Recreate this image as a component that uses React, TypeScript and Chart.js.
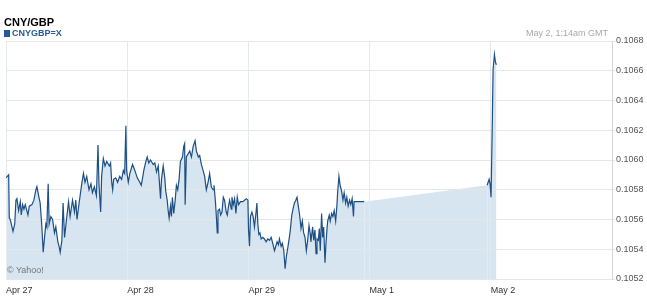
import { useEffect, useRef } from "react";
import Chart from "chart.js/auto";

// Trading-session axis: one unit per session day
const dayLabels = ["Apr 27", "Apr 28", "Apr 29", "May 1", "May 2"];
const rateTicks = [0.1052, 0.1054, 0.1056, 0.1058, 0.106, 0.1062, 0.1064, 0.1066, 0.1068];

// Position of each quote on the session axis (days since Apr 27)
const times = [
  0.0, 0.022, 0.027, 0.035, 0.058, 0.072, 0.082, 0.09, 0.104, 0.118,
  0.126, 0.137, 0.148, 0.159, 0.181, 0.192, 0.214, 0.23, 0.247, 0.255,
  0.269, 0.282, 0.296, 0.307, 0.318, 0.329, 0.337, 0.348, 0.356, 0.37,
  0.384, 0.4, 0.411, 0.428, 0.438, 0.447, 0.461, 0.471, 0.483, 0.502,
  0.516, 0.529, 0.549, 0.565, 0.576, 0.586, 0.603, 0.625, 0.639, 0.652,
  0.666, 0.685, 0.701, 0.713, 0.729, 0.746, 0.759, 0.767, 0.781, 0.789,
  0.803, 0.817,
  0.831, 0.853, 0.863, 0.872, 0.88, 0.888, 0.905, 0.921, 0.938, 0.954,
  0.968, 0.979, 0.989, 0.995, 1.009, 1.022, 1.044, 1.063, 1.083, 1.104,
  1.116, 1.127, 1.137, 1.154, 1.165, 1.178, 1.192, 1.215, 1.228, 1.242,
  1.256, 1.264, 1.275, 1.283, 1.297, 1.31, 1.318, 1.33, 1.338, 1.346,
  1.357, 1.365, 1.373, 1.384, 1.396, 1.406, 1.417, 1.428, 1.439, 1.456,
  1.466, 1.474, 1.478, 1.488, 1.516, 1.53, 1.544, 1.56, 1.571, 1.587,
  1.598, 1.612, 1.626, 1.639, 1.653, 1.667, 1.68,
  1.694, 1.708, 1.716, 1.727, 1.735, 1.743, 1.749, 1.762, 1.771, 1.782,
  1.793, 1.803, 1.817, 1.826, 1.836, 1.845, 1.859, 1.864, 1.875, 1.886,
  1.897, 1.908, 1.919, 1.935, 1.955, 1.968, 1.984, 1.996, 2.001, 2.009,
  2.017, 2.029, 2.039, 2.05, 2.062, 2.07, 2.078, 2.086, 2.095, 2.105,
  2.119, 2.132, 2.146, 2.16, 2.174, 2.188, 2.201, 2.215, 2.226, 2.237,
  2.248, 2.256, 2.27, 2.28, 2.292, 2.303, 2.313, 2.325, 2.338, 2.346,
  2.358, 2.368, 2.379, 2.391, 2.401, 2.412, 2.424, 2.434, 2.445, 2.456,
  2.467, 2.478, 2.489, 2.5, 2.511,
  2.516, 2.53, 2.539, 2.549, 2.558, 2.566, 2.577, 2.585, 2.593, 2.604,
  2.613, 2.621, 2.632, 2.64, 2.648, 2.654, 2.667, 2.675, 2.687, 2.697,
  2.708, 2.72, 2.73, 2.736, 2.747, 2.757, 2.769, 2.78, 2.79, 2.802,
  2.812, 2.823, 2.835, 2.845, 2.856, 2.867, 2.872, 2.887, 2.955,
  3.97, 3.986, 3.994, 4.002, 4.011, 4.019, 4.03, 4.038, 4.046,
];

// CNY/GBP quotes
const rates = [
  0.10588, 0.1059, 0.10561, 0.1056, 0.10552, 0.10557, 0.10573, 0.10574, 0.10566, 0.10572,
  0.10563, 0.1057, 0.10567, 0.1057, 0.10563, 0.10569, 0.1057, 0.10573, 0.1058, 0.10582,
  0.10576, 0.10571, 0.10555, 0.10538, 0.10548, 0.10557, 0.10555, 0.10584, 0.10557, 0.10562,
  0.1056, 0.10551, 0.10555, 0.10545, 0.10542, 0.10538, 0.10546, 0.10571, 0.10548, 0.10562,
  0.10572, 0.10562, 0.10573, 0.10565, 0.10573, 0.1056, 0.10571, 0.10584, 0.10591, 0.10585,
  0.10589, 0.1058, 0.10584, 0.10578, 0.10582, 0.10576, 0.1061, 0.10584, 0.10565, 0.10589,
  0.10601, 0.10596,
  0.10599, 0.10596, 0.10598, 0.10585, 0.1058, 0.10587, 0.10588, 0.10585, 0.10589, 0.10587,
  0.10593, 0.10591, 0.10623, 0.10593, 0.10585, 0.10591, 0.10597, 0.10593, 0.10588, 0.10585,
  0.10583, 0.10588, 0.10593, 0.10599, 0.10602, 0.10598, 0.106, 0.10597, 0.10598, 0.10592,
  0.10596, 0.10587, 0.10574, 0.10587, 0.10596, 0.10588, 0.10579, 0.10573, 0.10566, 0.10561,
  0.10569, 0.10562, 0.10575, 0.10564, 0.10573, 0.10583, 0.1058, 0.10587, 0.10599, 0.10602,
  0.10609, 0.10611, 0.1057, 0.10602, 0.10606, 0.10602, 0.10609, 0.10613, 0.10606, 0.10602,
  0.10603, 0.10597, 0.10593, 0.10589, 0.1058, 0.10585, 0.10591,
  0.10582, 0.1058, 0.10583, 0.10573, 0.10563, 0.10551, 0.10566, 0.10567, 0.10563, 0.10565,
  0.10575, 0.10573, 0.10565, 0.10563, 0.10569, 0.10573, 0.10567, 0.10575, 0.1057, 0.10574,
  0.10564, 0.10575, 0.1057, 0.10572, 0.10572, 0.10573, 0.10574, 0.10573, 0.10553, 0.10542,
  0.10562, 0.10565, 0.10562, 0.10555, 0.10564, 0.10571, 0.10557, 0.1055, 0.10551, 0.10547,
  0.10548, 0.10547, 0.10545, 0.10547, 0.10546, 0.10548, 0.10544, 0.10539, 0.10542, 0.10545,
  0.10543, 0.10547, 0.10542, 0.10544, 0.10539, 0.10527, 0.10535, 0.10541, 0.10548, 0.10553,
  0.10563, 0.10567, 0.10571, 0.10573, 0.10575, 0.10569, 0.10562, 0.10554, 0.10559, 0.10551,
  0.10548, 0.10539, 0.10546, 0.10556, 0.1055,
  0.10545, 0.10555, 0.10546, 0.10553, 0.10537, 0.10547, 0.10546, 0.10554, 0.10539, 0.10564,
  0.10548, 0.10555, 0.10531, 0.10544, 0.10553, 0.10559, 0.10563, 0.10559, 0.10564, 0.10562,
  0.10566, 0.10559, 0.10569, 0.10578, 0.10589, 0.10583, 0.10579, 0.10573, 0.10578, 0.10571,
  0.10575, 0.10569, 0.10573, 0.1057, 0.10574, 0.10562, 0.10572, 0.10572, 0.10572,
  0.10583, 0.10587, 0.10584, 0.10575, 0.10618, 0.10661, 0.10671, 0.10666, 0.10664,
];

const LINE = "#1d4f84";
const FILL = "#d6e5f0";
const FONT = 'Arial, "Liberation Sans", sans-serif';

export default function App() {
  const ref = useRef<HTMLCanvasElement>(null);

  useEffect(() => {
    const chart = new Chart(ref.current!, {
      type: "line",
      data: {
        datasets: [
          {
            data: times.map((t, i) => ({ x: t, y: rates[i] })),
            borderColor: LINE,
            backgroundColor: FILL,
            borderWidth: 1.2,
            pointRadius: 0,
            tension: 0,
            fill: "start",
            // no stroke across the closed-market stretch, only the area
            segment: {
              borderColor: (c: any) =>
                c.p1.parsed.x - c.p0.parsed.x > 0.5 ? "rgba(0,0,0,0)" : LINE,
            },
          },
        ],
      },
      options: {
        animation: false,
        responsive: false,
        events: [],
        layout: { padding: { left: 4, top: 41, right: 0, bottom: 0 } },
        plugins: {
          legend: { display: false },
          tooltip: { enabled: false },
          filler: { drawTime: "beforeDraw" },
        },
        scales: {
          x: {
            type: "linear",
            min: 0,
            max: 5,
            afterBuildTicks: (s: any) => {
              s.ticks = [0, 1, 2, 3, 4, 5].map((v) => ({ value: v }));
            },
            ticks: {
              callback: (_v: any, i: number) => dayLabels[i] ?? "",
              align: "start",
              padding: 6,
              maxRotation: 0,
              autoSkip: false,
              color: "#333",
              font: { family: FONT, size: 9 },
            },
            grid: { color: "#e4ebf0", drawTicks: false },
            border: { display: false },
            afterFit: (s: any) => {
              s.height = 24;
            },
          },
          y: {
            position: "right",
            min: 0.1052,
            max: 0.1068,
            afterBuildTicks: (s: any) => {
              s.ticks = rateTicks.map((v) => ({ value: v }));
            },
            ticks: {
              callback: (v: any) => Number(v).toFixed(4),
              padding: 1,
              color: "#555",
              font: { family: FONT, size: 9 },
            },
            grid: { color: "#e6e6e6", tickLength: 3 },
            border: { color: "#d4d4d4" },
            afterFit: (s: any) => {
              s.width = 35;
            },
          },
        },
      },
    } as any);
    return () => chart.destroy();
  }, []);

  return (
    <div
      style={{
        position: "absolute",
        left: 0,
        top: 0,
        width: 647,
        height: 303,
        background: "#fff",
        fontFamily: FONT,
      }}
    >
      <canvas ref={ref} width={647} height={303} style={{ display: "block" }} />
      <div
        style={{
          position: "absolute",
          left: 4,
          top: 17,
          fontSize: 11,
          lineHeight: "11px",
          fontWeight: "bold",
          color: "#000",
        }}
      >
        CNY/GBP
      </div>
      <div
        style={{
          position: "absolute",
          left: 4,
          top: 29,
          fontSize: 9,
          lineHeight: "9px",
          fontWeight: "bold",
          color: "#245b95",
          display: "flex",
          alignItems: "center",
          gap: 2,
        }}
      >
        <span style={{ display: "inline-block", width: 6, height: 7, background: "#245b95" }} />
        <span>CNYGBP=X</span>
      </div>
      <div
        style={{
          position: "absolute",
          right: 39,
          top: 29,
          fontSize: 9,
          lineHeight: "9px",
          color: "#a8a8a8",
        }}
      >
        May 2, 1:14am GMT
      </div>
      <div
        style={{
          position: "absolute",
          left: 7,
          top: 266,
          fontSize: 9,
          lineHeight: "9px",
          color: "#777",
        }}
      >
        © Yahoo!
      </div>
    </div>
  );
}
